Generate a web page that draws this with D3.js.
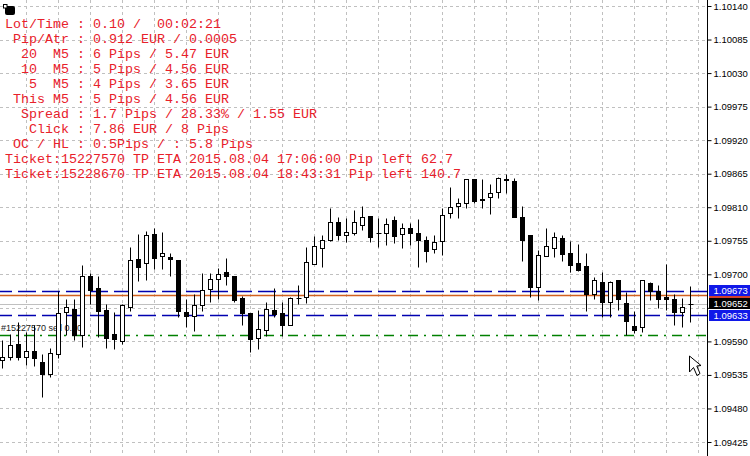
<!DOCTYPE html>
<html>
<head>
<meta charset="utf-8">
<script src="https://cdn.jsdelivr.net/npm/d3@7/dist/d3.min.js"></script>
<style>
html,body{margin:0;padding:0;background:#fff;overflow:hidden}
svg{display:block}
.info{font-family:"Liberation Mono",monospace;font-size:13.33px;fill:#e8202a;white-space:pre}
.px{font-family:"Liberation Sans",sans-serif;font-size:9.5px}
</style>
</head>
<body>
<svg id="c" width="750" height="456"></svg>
<script>
const opens=[1.09559,1.09564,1.09586,1.09564,1.09574,1.09556,1.09536,1.09569,1.09638,1.09643,1.09600,1.09697,1.09678,1.09641,1.09602,1.09591,1.09646,1.09725,1.09719,1.09766,1.09730,1.09728,1.09723,1.09638,1.09632,1.09650,1.09676,1.09692,1.09704,1.09697,1.09661,1.09637,1.09595,1.09609,1.09641,1.09637,1.09617,1.09661,1.09663,1.09717,1.09743,1.09756,1.09786,1.09764,1.09768,1.09781,1.09796,1.09768,1.09768,1.09789,1.09766,1.09776,1.09768,1.09756,1.09741,1.09755,1.09800,1.09812,1.09817,1.09856,1.09823,1.09827,1.09835,1.09856,1.09853,1.09794,1.09764,1.09679,1.09730,1.09743,1.09760,1.09735,1.09719,1.09714,1.09668,1.09687,1.09655,1.09691,1.09653,1.09615,1.09613,1.09686,1.09673,1.09663,1.09659,1.09638,1.09651];
const highs=[1.09592,1.09602,1.09622,1.09605,1.09617,1.09569,1.09579,1.09673,1.09659,1.09659,1.09715,1.09702,1.09697,1.09651,1.09638,1.09651,1.09745,1.09766,1.09771,1.09776,1.09769,1.09735,1.09723,1.09659,1.09668,1.09702,1.09702,1.09710,1.09727,1.09697,1.09664,1.09637,1.09641,1.09655,1.09678,1.09655,1.09663,1.09682,1.09745,1.09763,1.09764,1.09809,1.09794,1.09792,1.09805,1.09812,1.09796,1.09792,1.09792,1.09796,1.09784,1.09784,1.09791,1.09763,1.09764,1.09809,1.09843,1.09825,1.09856,1.09856,1.09856,1.09848,1.09860,1.09865,1.09858,1.09812,1.09764,1.09740,1.09776,1.09769,1.09764,1.09755,1.09750,1.09735,1.09696,1.09704,1.09689,1.09691,1.09671,1.09640,1.09691,1.09687,1.09682,1.09717,1.09668,1.09661,1.09681];
const lows=[1.09546,1.09559,1.09559,1.09551,1.09550,1.09499,1.09531,1.09562,1.09600,1.09592,1.09581,1.09651,1.09597,1.09579,1.09577,1.09586,1.09640,1.09689,1.09691,1.09709,1.09709,1.09697,1.09630,1.09613,1.09607,1.09640,1.09655,1.09659,1.09682,1.09655,1.09617,1.09573,1.09577,1.09599,1.09630,1.09599,1.09617,1.09651,1.09653,1.09717,1.09712,1.09755,1.09756,1.09753,1.09764,1.09773,1.09753,1.09745,1.09748,1.09751,1.09743,1.09748,1.09712,1.09720,1.09735,1.09732,1.09792,1.09792,1.09809,1.09817,1.09809,1.09799,1.09825,1.09833,1.09794,1.09722,1.09663,1.09658,1.09730,1.09728,1.09722,1.09704,1.09705,1.09640,1.09659,1.09630,1.09630,1.09641,1.09600,1.09604,1.09605,1.09658,1.09645,1.09641,1.09617,1.09613,1.09622];
const closes=[1.09564,1.09584,1.09564,1.09574,1.09562,1.09536,1.09571,1.09637,1.09646,1.09600,1.09697,1.09674,1.09640,1.09595,1.09594,1.09650,1.09723,1.09712,1.09764,1.09727,1.09735,1.09725,1.09640,1.09632,1.09650,1.09674,1.09692,1.09700,1.09697,1.09658,1.09637,1.09594,1.09610,1.09643,1.09635,1.09617,1.09661,1.09661,1.09720,1.09746,1.09756,1.09786,1.09764,1.09769,1.09786,1.09794,1.09761,1.09768,1.09782,1.09763,1.09776,1.09768,1.09756,1.09738,1.09753,1.09797,1.09810,1.09817,1.09856,1.09820,1.09822,1.09833,1.09858,1.09855,1.09794,1.09756,1.09679,1.09732,1.09746,1.09761,1.09733,1.09715,1.09707,1.09668,1.09691,1.09655,1.09687,1.09659,1.09623,1.09609,1.09691,1.09673,1.09659,1.09659,1.09638,1.09646,1.09651];
const tickPrices=[1.10140,1.10085,1.10030,1.09975,1.09920,1.09865,1.09810,1.09755,1.09700,1.09645,1.09590,1.09535,1.09480,1.09425];
const hiddenTickLabel=1.09645;
const gridCandles=[3,7,11,15,19,23,27,31,35,39,43,47,51,55,59,63,67,71,75,79,83,87];
const bluePrices=[1.09673,1.09633];
const orangePrice=1.09666;
const bidPrice=1.09652;
const greenPrice=1.09601;
const infoLines=[
"Lot/Time : 0.10 /  00:02:21",
" Pip/Atr : 0.912 EUR / 0.0005",
"  20  M5 : 6 Pips / 5.47 EUR",
"  10  M5 : 5 Pips / 4.56 EUR",
"   5  M5 : 4 Pips / 3.65 EUR",
" This M5 : 5 Pips / 4.56 EUR",
"  Spread : 1.7 Pips / 28.33% / 1.55 EUR",
"   Click : 7.86 EUR / 8 Pips",
" OC / HL : 0.5Pips / : 5.8 Pips",
"Ticket:15227570 TP ETA 2015.08.04 17:06:00 Pip left 62.7",
"Ticket:15228670 TP ETA 2015.08.04 18:43:31 Pip left 140.7"
];
const orderLabel="#15227570 sell 0.10";

const svg=d3.select("#c");
const axisX=707.5;
const x=d3.scaleLinear().domain([0,86]).range([2.5,690.5]);
const y=d3.scaleLinear().domain([1.10140,1.09425]).range([6,442]);
const py=v=>Math.round(y(v))+0.5;
const fmt=d3.format(".5f");

svg.append("rect").attr("width",750).attr("height",456).attr("fill","#fff");

// grid
const grid=svg.append("g").attr("stroke","#c0c0c0").attr("stroke-dasharray","3,3").attr("fill","none");
grid.selectAll("line.h").data(tickPrices).join("line").attr("class","h")
  .attr("x1",0).attr("x2",axisX).attr("y1",py).attr("y2",py);
grid.selectAll("line.v").data(gridCandles).join("line").attr("class","v")
  .attr("x1",d=>x(d)).attr("x2",d=>x(d)).attr("y1",0).attr("y2",456);

// order label
svg.append("text").attr("class","px").attr("x",1).attr("y",331).attr("fill","#222")
  .style("font-size","9px").text(orderLabel);

// horizontal price lines
const lines=svg.append("g").attr("fill","none");
lines.append("line").attr("x1",0).attr("x2",axisX).attr("y1",py(bidPrice)).attr("y2",py(bidPrice))
  .attr("stroke","#c0c0c0");
lines.append("line").attr("x1",0).attr("x2",axisX).attr("y1",py(orangePrice)).attr("y2",py(orangePrice))
  .attr("stroke","#d2601e").attr("stroke-width",1.5);
lines.selectAll("line.b").data(bluePrices).join("line").attr("class","b")
  .attr("x1",0).attr("x2",axisX).attr("y1",py).attr("y2",py)
  .attr("stroke","#0000b0").attr("stroke-width",1.5).attr("stroke-dasharray","18,6").attr("stroke-dashoffset",6);
lines.append("line").attr("x1",0).attr("x2",axisX).attr("y1",py(greenPrice)).attr("y2",py(greenPrice))
  .attr("stroke","#008000").attr("stroke-width",1.5).attr("stroke-dasharray","10,6,2,6");

// candles
const candles=d3.range(opens.length).map(i=>({i,o:opens[i],h:highs[i],l:lows[i],c:closes[i]}));
const g=svg.append("g");
g.selectAll("line.w").data(candles).join("line").attr("class","w")
  .attr("x1",d=>x(d.i)).attr("x2",d=>x(d.i))
  .attr("y1",d=>py(d.h)).attr("y2",d=>py(d.l)).attr("stroke","#000");
g.selectAll("rect").data(candles.filter(d=>d.o!==d.c)).join("rect")
  .attr("x",d=>x(d.i)-2).attr("width",4)
  .attr("y",d=>py(Math.max(d.o,d.c)))
  .attr("height",d=>Math.max(1,py(Math.min(d.o,d.c))-py(Math.max(d.o,d.c))))
  .attr("fill",d=>d.c>d.o?"#fff":"#000").attr("stroke","#000");
g.selectAll("line.d").data(candles.filter(d=>d.o===d.c)).join("line").attr("class","d")
  .attr("x1",d=>x(d.i)-2).attr("x2",d=>x(d.i)+3)
  .attr("y1",d=>py(d.o)).attr("y2",d=>py(d.o)).attr("stroke","#000");

// info text
svg.append("g").selectAll("text").data(infoLines).join("text").attr("class","info")
  .attr("x",5).attr("y",(d,i)=>28+15*i).attr("xml:space","preserve").text(d=>d);

// corner icon
svg.append("rect").attr("x",5).attr("y",6).attr("width",10).attr("height",9).attr("rx",2).attr("fill","#000");
svg.append("rect").attr("x",3.5).attr("y",4.5).attr("width",3.5).attr("height",3.5).attr("fill","#fff").attr("stroke","#000");

// axis panel
svg.append("rect").attr("x",axisX+0.5).attr("y",0).attr("width",42).attr("height",456).attr("fill","#fff");
const axis=d3.axisRight(y).tickValues(tickPrices).tickFormat(fmt).tickSize(4).tickPadding(2);
const ag=svg.append("g").attr("transform",`translate(${axisX},0)`).call(axis);
ag.select(".domain").remove();
ag.selectAll(".tick line").attr("stroke","#000");
ag.selectAll(".tick text").filter(d=>d===hiddenTickLabel).remove();
ag.selectAll(".tick text").attr("class","px").attr("fill","#000");
svg.append("line").attr("x1",axisX).attr("x2",axisX).attr("y1",0).attr("y2",456).attr("stroke","#000");

// price tags
const tags=[
 {v:bluePrices[0],y0:285,y1:296,fill:"#1018e8"},
 {v:orangePrice,y0:296,y1:298,fill:"#d0402a",noText:true},
 {v:bidPrice,y0:298,y1:309,fill:"#000"},
 {v:bluePrices[1],y0:310,y1:321,fill:"#1018e8"}
];
svg.append("rect").attr("x",709).attr("y",309).attr("width",41).attr("height",1).attr("fill","#fff");
const tg=svg.append("g");
tg.selectAll("rect").data(tags).join("rect").attr("x",709).attr("width",41)
  .attr("y",d=>d.y0).attr("height",d=>d.y1-d.y0).attr("fill",d=>d.fill);
tg.selectAll("text").data(tags.filter(d=>!d.noText)).join("text").attr("class","px")
  .attr("x",713.5).attr("y",d=>(d.y0+d.y1)/2+3.5).attr("fill","#fff").text(d=>fmt(d.v));

// mouse cursor
svg.append("path").attr("d","M689.5,356 L689.5,372 L693.5,367.5 L697,375.5 L700,373.5 L696.8,366 L701,365.5 Z")
  .attr("fill","#fff").attr("stroke","#000");
</script>
</body>
</html>
